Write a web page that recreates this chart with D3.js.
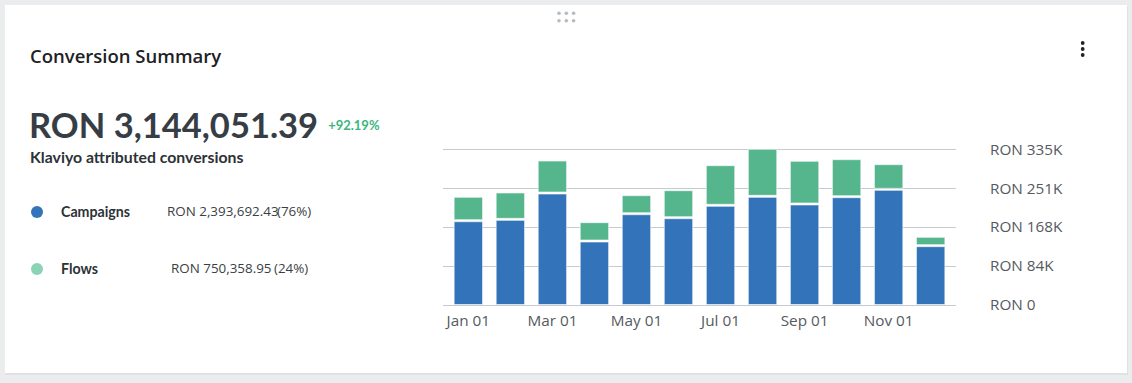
<!DOCTYPE html>
<html>
<head>
<meta charset="utf-8">
<script src="https://cdn.jsdelivr.net/npm/d3@7"></script>
<style>
  body { margin: 0; background: #eaecee; }
  svg { display: block; }
</style>
</head>
<body>
<svg></svg>
<script>
//svg size
const width = 1132;
const height = 383;

//data
var months = ['Jan 01','Feb 01','Mar 01','Apr 01','May 01','Jun 01','Jul 01','Aug 01','Sep 01','Oct 01','Nov 01','Dec 01'];
var campaigns = [178700, 181700, 238500, 134900, 193800, 185200, 212000, 231400, 214800, 230500, 246500, 124800];
var flows = [52700, 59000, 71200, 41700, 41100, 60400, 87600, 103600, 94300, 82100, 55300, 20200];
var legendNames = ['Campaigns', 'Flows'];
var legendValues = ['RON 2,393,692.43', 'RON 750,358.95'];
var legendPct = ['(76%)', '(24%)'];
var totalText = 'RON 3,144,051.39';
var changeText = '+92.19%';

//colours
var campaign_col = '#3373b9';
var flow_col = '#55b58d';
var flow_dot_col = '#8bd3b4';
var grid_col = '#c7cacf';
var label_col = '#555a60';

var svg = d3.select('svg')
    .attr('width', width)
    .attr('height', height);

//card
svg.append('rect')
   .attr('x', 5)
   .attr('y', 6)
   .attr('width', 1123)
   .attr('height', 369)
   .attr('fill', '#dfe2e5');
svg.append('rect')
   .attr('x', 5)
   .attr('y', 5)
   .attr('width', 1122)
   .attr('height', 368)
   .attr('fill', '#ffffff');

//drag handle dots
for (var i = 0; i < 3; i++) {
    for (var j = 0; j < 2; j++) {
        svg.append('circle')
           .attr('cx', 559 + i * 7.3)
           .attr('cy', 13.3 + j * 7.4)
           .attr('r', 1.8)
           .attr('fill', '#b6bac1');
    }
}

//menu dots
for (var k = 0; k < 3; k++) {
    svg.append('circle')
       .attr('cx', 1082.7)
       .attr('cy', 43 + k * 6)
       .attr('r', 1.9)
       .attr('fill', '#222');
}

//title
svg.append('text')
   .text('Conversion Summary')
   .attr('x', 30)
   .attr('y', 63)
   .attr('font-family', 'Open Sans')
   .attr('font-size', 18.5)
   .attr('font-weight', 600)
   .attr('fill', '#1e2124');

//big total
var bigText = svg.append('text')
   .text(totalText)
   .attr('x', 29)
   .attr('y', 138)
   .attr('font-family', 'Lato')
   .attr('font-size', 34.5)
   .attr('font-weight', 'bold')
   .attr('fill', '#363d45');

var bigEnd = 29 + bigText.node().getComputedTextLength();

svg.append('text')
   .text(changeText)
   .attr('x', bigEnd + 10)
   .attr('y', 130)
   .attr('font-family', 'Lato')
   .attr('font-size', 13)
   .attr('font-weight', 'bold')
   .attr('fill', '#3bb67c');

svg.append('text')
   .text('Klaviyo attributed conversions')
   .attr('x', 30)
   .attr('y', 163)
   .attr('font-family', 'Lato')
   .attr('font-size', 15.8)
   .attr('font-weight', 'bold')
   .attr('fill', '#2c3237');

//legend
var legendY = [212, 269];
var legendCols = [campaign_col, flow_dot_col];
var valueX = [167, 171];
var pctX = [277, 274];

for (var l = 0; l < legendNames.length; l++) {
    svg.append('circle')
       .attr('cx', 37)
       .attr('cy', legendY[l])
       .attr('r', 6)
       .attr('fill', legendCols[l]);

    svg.append('text')
       .text(legendNames[l])
       .attr('x', 61)
       .attr('y', legendY[l] + 5)
       .attr('font-family', 'Lato')
       .attr('font-size', 14.2)
       .attr('font-weight', 'bold')
       .attr('fill', '#2c3237');

    svg.append('text')
       .text(legendValues[l])
       .attr('x', valueX[l])
       .attr('y', legendY[l] + 4)
       .attr('font-family', 'Open Sans')
       .attr('font-size', 13.4)
       .attr('fill', '#3a3f45');

    svg.append('text')
       .text(legendPct[l])
       .attr('x', pctX[l])
       .attr('y', legendY[l] + 4)
       .attr('font-family', 'Open Sans')
       .attr('font-size', 13.4)
       .attr('fill', '#3a3f45');
}

//scales
var totals = months.map(function(m, i) { return campaigns[i] + flows[i]; });
var maxTotal = d3.max(totals);

var x = d3.scaleBand()
    .domain(months)
    .range([443, 956])
    .paddingInner(0.324)
    .paddingOuter(0.265);

var y = d3.scaleLinear()
    .domain([0, maxTotal])
    .range([304.5, 149.3]);

var tickVals = d3.range(5).map(function(i) { return maxTotal * i / 4; });

//gridlines
var chart = svg.append('g').attr('class', 'chart');

chart.selectAll('.grid')
     .data(tickVals)
     .enter()
     .append('line')
     .attr('class', 'grid')
     .attr('x1', 443)
     .attr('x2', 956)
     .attr('y1', function(d) { return Math.round(y(d)) + 0.5; })
     .attr('y2', function(d) { return Math.round(y(d)) + 0.5; })
     .attr('stroke', grid_col)
     .attr('stroke-width', 1);

//y axis on the right
var yAxis = d3.axisRight(y)
    .tickValues(tickVals)
    .tickSize(0)
    .tickPadding(0)
    .tickFormat(function(d) { return 'RON ' + Math.round(d / 1000) + (d > 0 ? 'K' : ''); });

var yg = chart.append('g')
    .attr('transform', 'translate(990,0)')
    .call(yAxis);
yg.select('.domain').remove();
yg.selectAll('text')
  .attr('font-family', 'Open Sans')
  .attr('font-size', 15.3)
  .attr('fill', label_col);

//x axis labels
var xAxis = d3.axisBottom(x)
    .tickValues(months.filter(function(m, i) { return i % 2 === 0; }))
    .tickSize(0)
    .tickPadding(0);

var xg = chart.append('g')
    .attr('transform', 'translate(0,315)')
    .call(xAxis);
xg.select('.domain').remove();
xg.selectAll('text')
  .attr('font-family', 'Open Sans')
  .attr('font-size', 15.3)
  .attr('fill', label_col);

//campaign bars
chart.selectAll('.campaign')
     .data(months)
     .enter()
     .append('rect')
     .attr('class', 'campaign')
     .attr('x', function(d) { return x(d); })
     .attr('y', function(d, i) { return y(campaigns[i]); })
     .attr('width', x.bandwidth())
     .attr('height', function(d, i) { return y(0) - y(campaigns[i]); })
     .attr('fill', campaign_col)
     .attr('stroke', '#ffffff')
     .attr('stroke-opacity', 0.6)
     .attr('stroke-width', 1);

//flow bars stacked on top
chart.selectAll('.flow')
     .data(months)
     .enter()
     .append('rect')
     .attr('class', 'flow')
     .attr('x', function(d) { return x(d); })
     .attr('y', function(d, i) { return y(totals[i]); })
     .attr('width', x.bandwidth())
     .attr('height', function(d, i) { return y(campaigns[i]) - y(totals[i]) - 2; })
     .attr('fill', flow_col)
     .attr('stroke', '#ffffff')
     .attr('stroke-opacity', 0.6)
     .attr('stroke-width', 1);
</script>
</body>
</html>
